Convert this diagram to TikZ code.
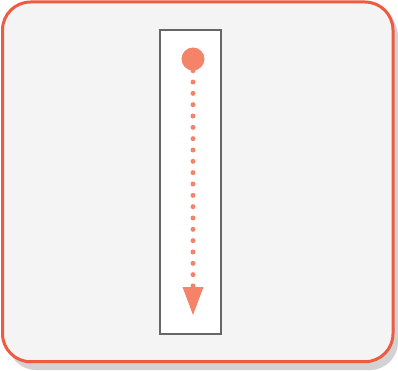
\documentclass[tikz,border=0pt]{standalone}
\usetikzlibrary{arrows.meta,positioning}
\definecolor{frameorange}{HTML}{EF5A42}
\definecolor{panelgray}{HTML}{F4F4F4}
\definecolor{shadowgray}{HTML}{D2D2D2}
\definecolor{lanegray}{HTML}{666666}
\definecolor{salmon}{HTML}{F4836A}

\begin{document}
\begin{tikzpicture}[x=1pt, y=1pt]
\tikzset{panel/.style={rounded corners=28pt}}
\tikzset{lane/.style={draw=lanegray, line width=2pt, fill=white, minimum width=61pt, minimum height=304pt, inner sep=0pt}}
\tikzset{token/.style={circle, fill=salmon, minimum size=23pt, inner sep=0pt}}
\tikzset{flow/.style={salmon, line width=5pt, line cap=round, dash pattern=on 0pt off 11.33pt, -{Triangle[length=28pt, width=21pt, line width=0pt]}}}
\useasboundingbox (0,0) rectangle (398,370);
% frame with its shadow
\fill[shadowgray, panel] (8,0) rectangle (398,362);
\draw[frameorange, fill=panelgray, line width=3pt, panel] (2.5,8.3) rectangle (393,368);
% lane and the moving token
\node[lane] (lane) at (190.5,188) {};
\node[token] (start) at (193,311) {};
\coordinate (stop) at (193,55);
\draw[flow] (start) -- (stop);
\end{tikzpicture}
\end{document}
